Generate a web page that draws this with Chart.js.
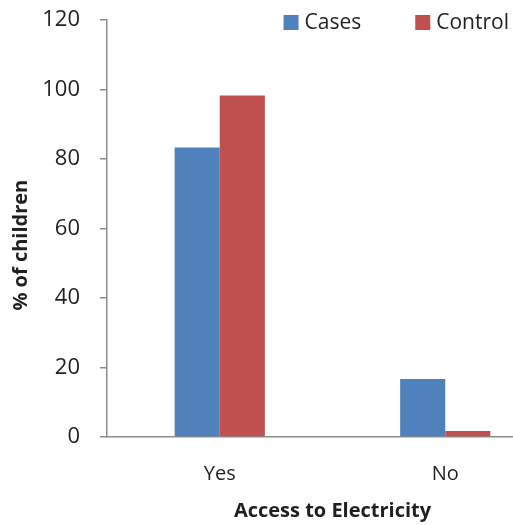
<!DOCTYPE html>
<html>
<head>
<meta charset="utf-8">
<script src="https://cdn.jsdelivr.net/npm/chart.js@4/dist/chart.umd.min.js"></script>
<style>
  html, body { margin: 0; padding: 0; background: #ffffff; overflow: hidden; }
  #wrap { width: 513px; height: 525px; overflow: hidden; position: relative; }
  #box { width: 558px; height: 525px; position: absolute; left: 0; top: 0; }
</style>
</head>
<body>
<div id="wrap"><div id="box"><canvas id="c"></canvas></div></div>
<script>
// Percentage of children with / without access to electricity
const categories = ['Yes', 'No'];
const casesValues = [83.3, 16.7];
const controlValues = [98.3, 1.7];
const seriesNames = ['Cases', 'Control'];
const yTicks = [0, 20, 40, 60, 80, 100, 120];
const xTitle = 'Access to Electricity';
const yTitle = '% of children';

const FONT = "'Open Sans', 'Liberation Sans', sans-serif";
const TEXT = '#1f1f1f';
const AXIS = '#8c8c8c';

// Legend drawn in the upper right corner over the plot
const cornerLegend = {
  id: 'cornerLegend',
  afterDraw(chart) {
    const ctx = chart.ctx;
    ctx.save();
    ctx.font = '21px ' + FONT;
    ctx.textBaseline = 'alphabetic';
    ctx.fillStyle = TEXT;
    const box = 15, gap = 6, between = 54;
    const sets = chart.data.datasets;
    let total = 0;
    sets.forEach((d, i) => {
      total += box + gap + ctx.measureText(d.label).width;
      if (i < sets.length - 1) total += between;
    });
    let x = 509 - total;
    const baseline = 29;
    sets.forEach(d => {
      ctx.fillStyle = d.backgroundColor;
      ctx.fillRect(x, 15, box, box);
      x += box + gap;
      ctx.fillStyle = TEXT;
      ctx.fillText(d.label, x, baseline);
      x += ctx.measureText(d.label).width + between;
    });
    ctx.restore();
  }
};

// Rotated y-axis title
const yAxisTitle = {
  id: 'yAxisTitle',
  afterDraw(chart) {
    const ctx = chart.ctx;
    const a = chart.chartArea;
    ctx.save();
    ctx.font = 'bold 20px ' + FONT;
    ctx.fillStyle = TEXT;
    ctx.textAlign = 'center';
    ctx.textBaseline = 'middle';
    ctx.translate(21, a.top + (a.bottom - a.top) * 0.54);
    ctx.rotate(-Math.PI / 2);
    ctx.fillText(yTitle, 0, 0);
    ctx.restore();
  }
};

new Chart(document.getElementById('c'), {
  type: 'bar',
  data: {
    labels: categories,
    datasets: [
      { label: seriesNames[0], data: casesValues, backgroundColor: '#4F81BD' },
      { label: seriesNames[1], data: controlValues, backgroundColor: '#C0504D' }
    ]
  },
  options: {
    responsive: true,
    maintainAspectRatio: false,
    animation: false,
    layout: { padding: { top: 20, right: 0, left: 0, bottom: 0 } },
    datasets: { bar: { categoryPercentage: 0.4, barPercentage: 1.0 } },
    plugins: { legend: { display: false }, tooltip: { enabled: false } },
    scales: {
      x: {
        grid: { display: false, drawTicks: false },
        border: { display: true, color: AXIS, width: 1.5 },
        ticks: { color: TEXT, font: { family: FONT, size: 20 }, padding: 25 },
        title: { display: true, text: xTitle, color: TEXT, font: { family: FONT, size: 20, weight: 'bold' }, padding: { top: 0, bottom: 2 } },
        afterFit(scale) { scale.height = 88; scale.paddingLeft = 0; scale.paddingRight = 0; }
      },
      y: {
        min: 0,
        max: 120,
        afterBuildTicks(scale) { scale.ticks = yTicks.map(v => ({ value: v })); },
        grid: { drawOnChartArea: false, drawTicks: true, tickLength: 7, color: AXIS, lineWidth: 1.5 },
        border: { display: true, color: AXIS, width: 1.5 },
        ticks: { color: TEXT, font: { family: FONT, size: 22 }, padding: 20 },
        afterFit(scale) { scale.width = 107; scale.paddingTop = 0; scale.paddingBottom = 0; }
      }
    }
  },
  plugins: [cornerLegend, yAxisTitle]
});
</script>
</body>
</html>
